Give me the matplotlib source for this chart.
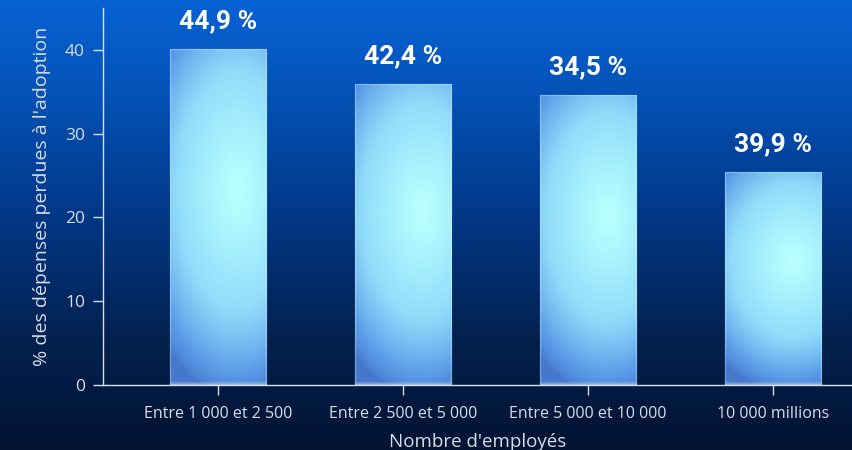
import numpy as np
import matplotlib
matplotlib.use("Agg")
import matplotlib.pyplot as plt
from matplotlib.colors import LinearSegmentedColormap

categories = ["Entre 1 000 et 2 500", "Entre 2 500 et 5 000", "Entre 5 000 et 10 000", "10 000 millions"]
bar_heights = [40.1, 35.9, 34.6, 25.4]
value_labels = ["44,9 %", "42,4 %", "34,5 %", "39,9 %"]
y_ticks = [0, 10, 20, 30, 40]
x_label = "Nombre d'employés"
y_label = "% des dépenses perdues à l'adoption"

fig = plt.figure(figsize=(8.52, 4.5), dpi=100)

# background gradient
bg = fig.add_axes([0, 0, 1, 1], zorder=-10)
bg_cmap = LinearSegmentedColormap.from_list("bg", [
    (0.0, "#021332"), (0.25, "#02214f"), (0.55, "#023a8c"), (0.8, "#0453b8"), (1.0, "#0762d4")])
grad = np.linspace(0, 1, 256).reshape(-1, 1)
bg.imshow(grad, aspect="auto", cmap=bg_cmap, origin="lower", extent=[0, 1, 0, 1])
bg.set_axis_off()

ax = fig.add_axes([103/852, 1 - 385/450, 1 - 103/852 + 0.001, (385 - 8)/450])
ax.set_facecolor("none")
x = np.arange(len(categories))
width = 0.52
bars = ax.bar(x, bar_heights, width=width, facecolor="none",
              edgecolor=(0.8, 0.93, 1.0, 0.35), linewidth=1.0, zorder=3)

bar_cmap = LinearSegmentedColormap.from_list("bar", [
    (0.0, "#3d6cc0"), (0.3, "#5c9ce8"), (0.6, "#90dcfa"), (1.0, "#b8feff")])
nx, ny = 100, 300
xx, yy = np.meshgrid(np.linspace(0, 1, nx), np.linspace(0, 1, ny))
for rect in bars:
    bx, by = rect.get_x(), rect.get_y()
    bw, bh = rect.get_width(), rect.get_height()
    yabs = yy * bh
    d = np.sqrt(((xx - 0.7) / 1.1) ** 2 + ((yabs - 0.58 * bh) / (0.62 * bh)) ** 2)
    val = np.clip(1 - d, 0, 1) ** 0.7
    val = val * 0.95 + 0.08
    img = bar_cmap(np.clip(val, 0, 1))
    # thin light strip at the bottom
    strip = np.clip(1 - yabs / 0.4, 0, 1) * 0.45
    img[..., :3] = img[..., :3] * (1 - strip[..., None]) + np.array([0.85, 0.95, 1.0]) * strip[..., None]
    im = ax.imshow(img, origin="lower", aspect="auto",
                   extent=[bx, bx + bw, by, by + bh], zorder=2, interpolation="bilinear")
    im.set_clip_path(rect)

for xi, h, lab in zip(x, bar_heights, value_labels):
    ax.text(xi, h + 3.3, lab, ha="center", va="center", color="white",
            fontsize=19, fontweight="bold", family=["Roboto", "DejaVu Sans"], zorder=5)

ax.set_xlim(-0.62, 3.43)
ax.set_ylim(0, 45)
ax.set_xticks(x)
ax.set_xticklabels(categories)
ax.set_yticks(y_ticks)
txtcol = "#d6dde8"
for lbl in ax.get_xticklabels():
    lbl.set_family(["Open Sans", "DejaVu Sans"])
    lbl.set_fontsize(11.5)
    lbl.set_color(txtcol)
for lbl in ax.get_yticklabels():
    lbl.set_family(["Open Sans", "DejaVu Sans"])
    lbl.set_fontsize(12.5)
    lbl.set_color(txtcol)
ax.tick_params(axis="x", direction="inout", length=14, color=txtcol, pad=8, width=1)
ax.tick_params(axis="y", direction="out", length=7, color=txtcol, pad=6, width=1)
for s in ["top", "right"]:
    ax.spines[s].set_visible(False)
for s in ["left", "bottom"]:
    ax.spines[s].set_color(txtcol)
    ax.spines[s].set_linewidth(1)
ax.set_xlabel(x_label, color=txtcol, fontsize=13.5, family=["Open Sans", "DejaVu Sans"], labelpad=8)
ax.set_ylabel(y_label, color=txtcol, fontsize=14, family=["Open Sans", "DejaVu Sans"], labelpad=10)

fig.savefig("out.png", dpi=100)
